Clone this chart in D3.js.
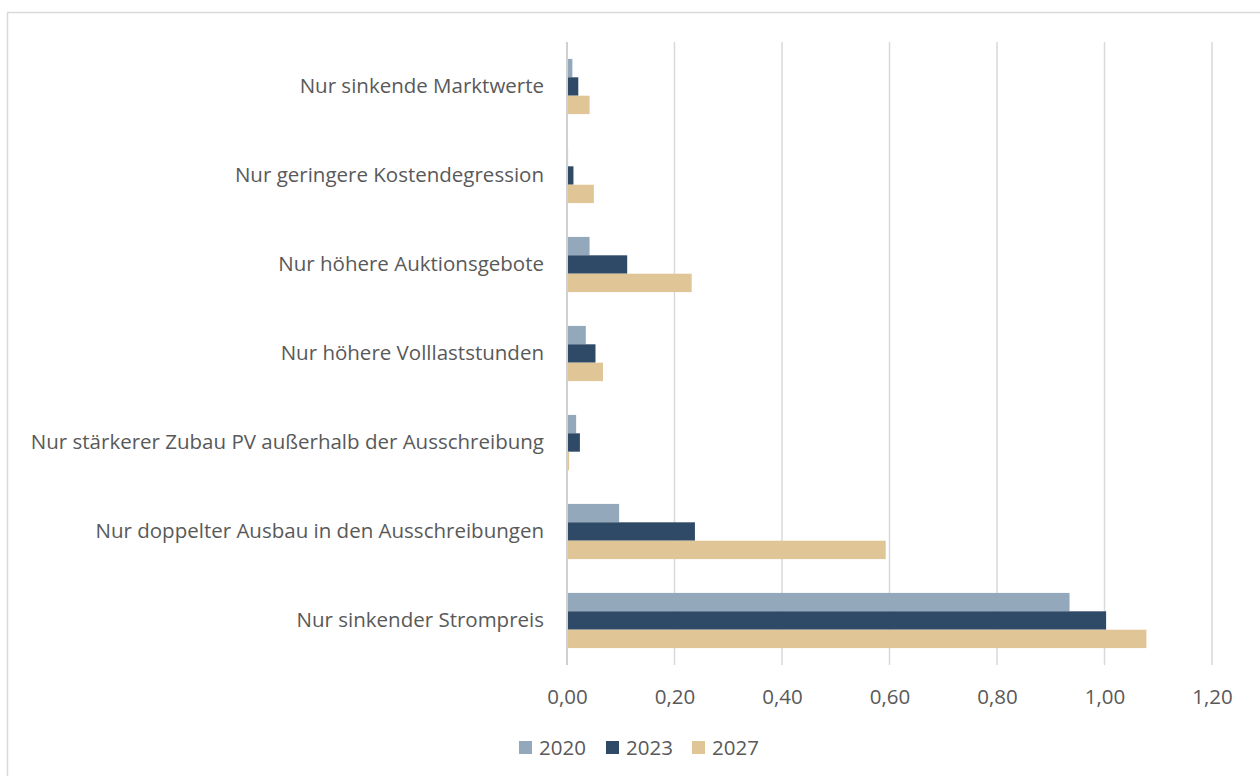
<!DOCTYPE html>
<html>
<head>
<meta charset="utf-8">
<script src="https://cdn.jsdelivr.net/npm/d3@7"></script>
<style>
  body { margin: 0; background: #fff; }
  text { font-family: "Open Sans", "Noto Sans", sans-serif; fill: #595959; }
</style>
</head>
<body>
<div id="chart"></div>
<script>
// categories top to bottom
var categories = [
  "Nur sinkende Marktwerte",
  "Nur geringere Kostendegression",
  "Nur höhere Auktionsgebote",
  "Nur höhere Volllaststunden",
  "Nur stärkerer Zubau PV außerhalb der Ausschreibung",
  "Nur doppelter Ausbau in den Ausschreibungen",
  "Nur sinkender Strompreis"
];
var seriesNames = ["2020", "2023", "2027"];
var values2020 = [0.010, 0.002, 0.042, 0.035, 0.017, 0.097, 0.935];
var values2023 = [0.021, 0.012, 0.112, 0.053, 0.024, 0.238, 1.003];
var values2027 = [0.042, 0.050, 0.232, 0.067, 0.004, 0.593, 1.078];
var tickValues = [0, 0.2, 0.4, 0.6, 0.8, 1.0, 1.2];
var colors = ["#94a8bc", "#2e4a66", "#e0c697"];

var width = 1260, height = 776;
var margin = {top: 42, left: 567, right: 48, bottom: 111};
var fontSize = "20.5px";

var svg = d3.select("#chart").append("svg")
  .attr("width", width)
  .attr("height", height);

// outer frame
svg.append("rect")
  .attr("x", 7.5).attr("y", 12.5)
  .attr("width", 1300).attr("height", 900)
  .attr("fill", "none")
  .attr("stroke", "#d9d9d9")
  .attr("stroke-width", 1.5);

var x = d3.scaleLinear()
  .domain([0, 1.2])
  .range([margin.left, width - margin.right]);

var y = d3.scaleBand()
  .domain(categories)
  .range([margin.top, height - margin.bottom])
  .paddingInner(0.38)
  .paddingOuter(0.19);

var ySub = d3.scaleBand()
  .domain(seriesNames)
  .range([0, y.bandwidth()]);

// gridlines
svg.append("g")
  .selectAll("line")
  .data(tickValues)
  .enter()
  .append("line")
  .attr("x1", function(d){ return x(d); })
  .attr("x2", function(d){ return x(d); })
  .attr("y1", margin.top)
  .attr("y2", height - margin.bottom)
  .attr("stroke", "#d9d9d9")
  .attr("stroke-width", 1.5);

var series = [values2020, values2023, values2027];

seriesNames.forEach(function(name, si){
  svg.append("g")
    .selectAll("rect")
    .data(series[si])
    .enter()
    .append("rect")
    .attr("x", x(0) + 1)
    .attr("y", function(d, i){ return y(categories[i]) + ySub(name); })
    .attr("width", function(d){ return Math.max(0, x(d) - x(0) - 1); })
    .attr("height", ySub.bandwidth())
    .attr("fill", colors[si]);
});

// axis line at zero
svg.append("line")
  .attr("x1", x(0)).attr("x2", x(0))
  .attr("y1", margin.top).attr("y2", height - margin.bottom)
  .attr("stroke", "#d0d0d0")
  .attr("stroke-width", 2);

// x tick labels
var fmt = function(d){ return d3.format(".2f")(d).replace(".", ","); };
var xAxis = d3.axisBottom(x)
  .tickValues(tickValues)
  .tickFormat(fmt)
  .tickSize(0)
  .tickPadding(0);

var gx = svg.append("g")
  .attr("transform", "translate(0," + (height - margin.bottom) + ")")
  .call(xAxis);
gx.select(".domain").remove();
gx.selectAll("text")
  .attr("y", 39)
  .attr("dy", 0)
  .style("font-size", fontSize)
  .style("font-family", null)
  .attr("fill", "#595959");

// category labels
var yAxis = d3.axisLeft(y).tickSize(0).tickPadding(23);
var gy = svg.append("g")
  .attr("transform", "translate(" + margin.left + ",0)")
  .call(yAxis);
gy.select(".domain").remove();
gy.selectAll("text")
  .style("font-size", fontSize)
  .style("font-family", null)
  .attr("fill", "#595959");

// legend
var legend = svg.append("g")
  .attr("transform", "translate(519,741)");
var legendX = [0, 87, 173];
seriesNames.forEach(function(name, i){
  var g = legend.append("g").attr("transform", "translate(" + legendX[i] + ",0)");
  g.append("rect")
    .attr("width", 13).attr("height", 13)
    .attr("fill", colors[i]);
  g.append("text")
    .attr("x", 20).attr("y", 7)
    .attr("dy", "0.35em")
    .style("font-size", fontSize)
    .text(name);
});
</script>
</body>
</html>
